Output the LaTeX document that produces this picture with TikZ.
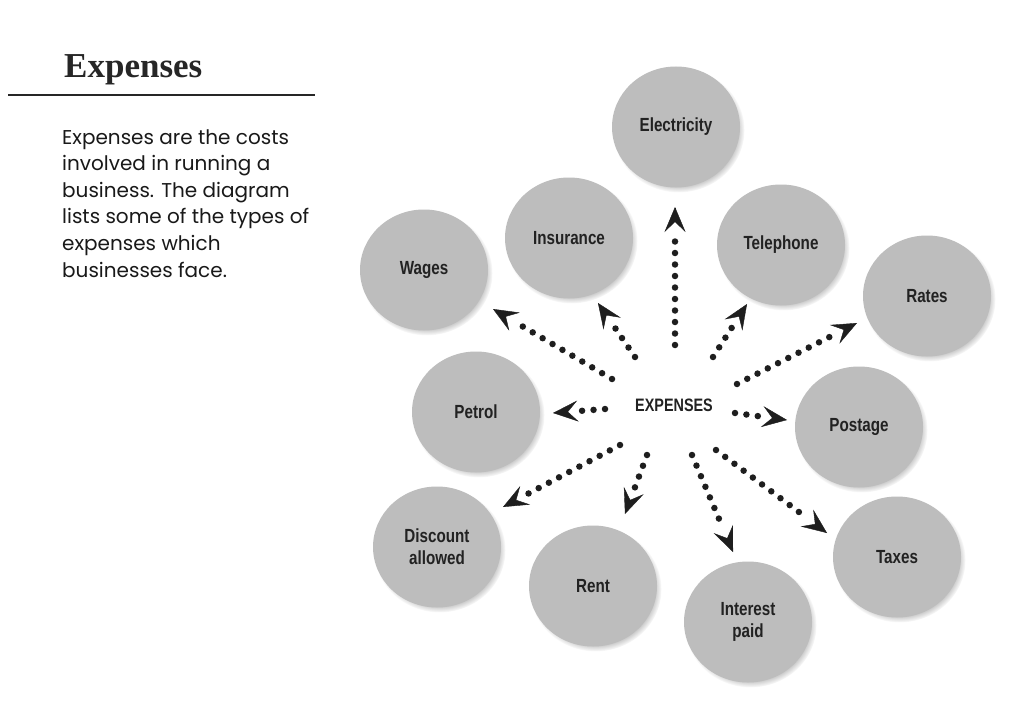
\documentclass[tikz,border=0pt]{standalone}
\usepackage{fontspec}
\setmainfont{Liberation Serif}
\newfontfamily\labfont[FakeStretch=0.8]{Liberation Sans}
\newfontfamily\bodyfont{Poppins}
\usetikzlibrary{arrows.meta,shadows,shapes.geometric,calc}
\definecolor{bubblegray}{HTML}{BDBDBD}
\definecolor{labtext}{HTML}{222222}
\definecolor{dotcol}{HTML}{1E1E1E}
\newcommand\dotlink[2]{%
  \draw[dotline] (#1) -- ($(#2)!28pt!(#1)$);
  \draw[tipline] ($(#2)!1pt!(#1)$) -- (#2);}
\begin{document}
\begin{tikzpicture}[x=1pt,y=-1pt,
  bubble/.style={ellipse, minimum width=128pt, minimum height=121pt, inner sep=0pt,
    fill=bubblegray,
    circular drop shadow={shadow xshift=2.5pt, shadow yshift=-3pt, shadow scale=1.03, opacity=0.6},
    font=\labfont\bfseries\fontsize{19}{22}\selectfont, text=labtext, align=center},
  dotline/.style={line width=6.5pt, dash pattern=on 0pt off 11.5pt, line cap=round, draw=dotcol},
  tipline/.style={line width=0.4pt, draw=dotcol,
    -{Stealth[length=25pt,width=21pt,inset=10pt,fill=dotcol]}}
]
\useasboundingbox[fill=white] (0,0) rectangle (1028,706);

% heading
\node[anchor=base west, inner sep=0pt, font=\bfseries\fontsize{35}{40}\selectfont, text=black!85] (title) at (64,78) {Expenses};
\coordinate (ruleL) at (8,95);
\coordinate (ruleR) at (315,95);
\draw[line width=2pt, black!85] (ruleL) -- (ruleR);
\node[anchor=north west, inner sep=0pt, align=left, text=black!90,
  font=\bodyfont\fontsize{20}{26.6}\selectfont] (body) at (62,129)
  {Expenses are the costs\\involved in running a\\business. The diagram\\lists some of the types of\\expenses which\\businesses face.};

% bubbles
\node[bubble] (elec) at (676,127) {Electricity};
\node[bubble] (ins)  at (569,238) {Insurance};
\node[bubble] (tel)  at (781,245) {Telephone};
\node[bubble] (wag)  at (424,270) {Wages};
\node[bubble] (rat)  at (927,296) {Rates};
\node[bubble] (pet)  at (476,412) {Petrol};
\node[bubble] (pos)  at (859,427) {Postage};
\node[bubble] (dis)  at (437,547) {Discount\\allowed};
\node[bubble] (ren)  at (593,586) {Rent};
\node[bubble] (int)  at (748,622) {Interest\\paid};
\node[bubble] (tax)  at (897,557) {Taxes};

% centre
\node[font=\labfont\bfseries\fontsize{18}{20}\selectfont, text=labtext] (exp) at (674,405) {EXPENSES};

% arrow ends
\coordinate (sE) at (675,345); \coordinate (tE) at (675,207);
\coordinate (sI) at (635,357); \coordinate (tI) at (598,303);
\coordinate (sT) at (713,357); \coordinate (tT) at (747,304);
\coordinate (sW) at (612,379); \coordinate (tW) at (493,309);
\coordinate (sR) at (737,384); \coordinate (tR) at (857,323);
\coordinate (sP) at (605,409); \coordinate (tP) at (553,413);
\coordinate (sO) at (735,413); \coordinate (tO) at (787,420);
\coordinate (sD) at (620,445); \coordinate (tD) at (503,507);
\coordinate (sN) at (647,455); \coordinate (tN) at (625,514);
\coordinate (sA) at (692,455); \coordinate (tA) at (733,552);
\coordinate (sX) at (716,450); \coordinate (tX) at (827,533);

\dotlink{sE}{tE}
\dotlink{sI}{tI}
\dotlink{sT}{tT}
\dotlink{sW}{tW}
\dotlink{sR}{tR}
\dotlink{sP}{tP}
\dotlink{sO}{tO}
\dotlink{sD}{tD}
\dotlink{sN}{tN}
\dotlink{sA}{tA}
\dotlink{sX}{tX}
\end{tikzpicture}
\end{document}
